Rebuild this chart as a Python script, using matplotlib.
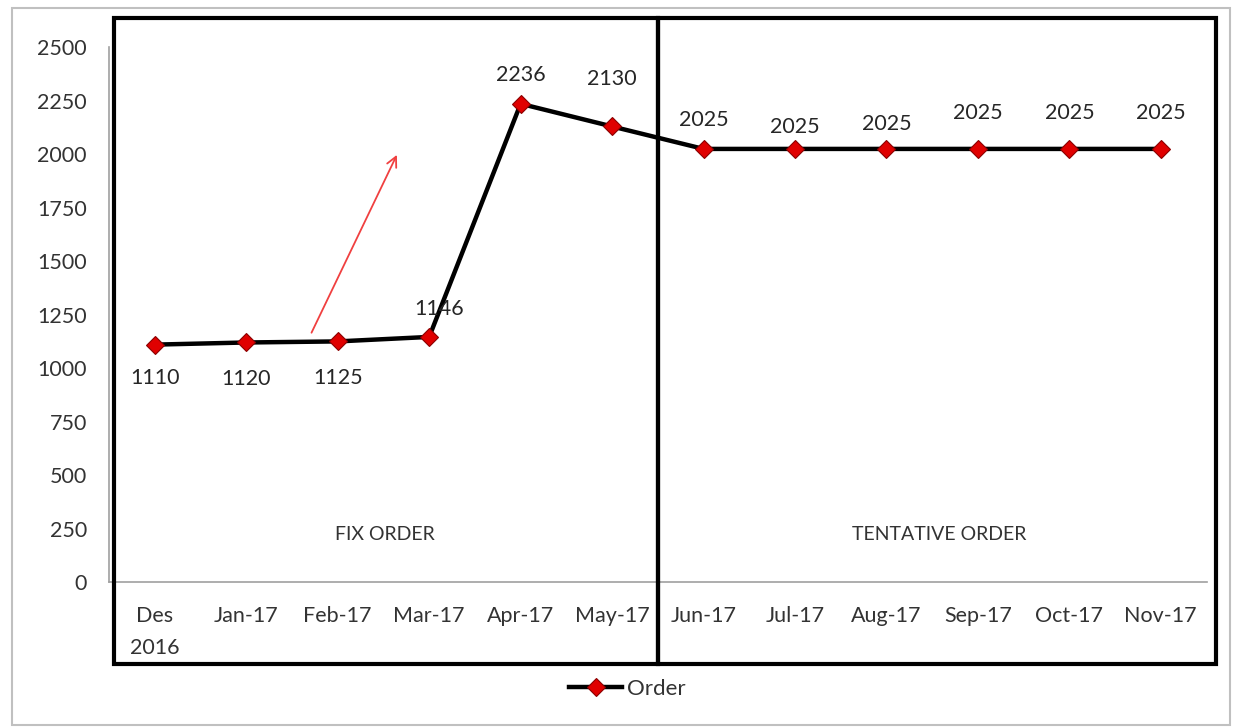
import matplotlib.pyplot as plt
from matplotlib.patches import Rectangle

# Data
months = ["Des\n2016", "Jan-17", "Feb-17", "Mar-17", "Apr-17", "May-17",
          "Jun-17", "Jul-17", "Aug-17", "Sep-17", "Oct-17", "Nov-17"]
orders = [1110, 1120, 1125, 1146, 2236, 2130, 2025, 2025, 2025, 2025, 2025, 2025]

plt.rcParams['font.family'] = ['Lato', 'DejaVu Sans']

fig = plt.figure(figsize=(12.4, 7.28), dpi=100)
ax = fig.add_axes([0.088, 0.2005, 0.885, 0.7345])

x = list(range(len(months)))
ax.plot(x, orders, color='black', linewidth=3.2, marker='D', markersize=9,
        markerfacecolor='#e00000', markeredgecolor='#8b0000', markeredgewidth=0.8,
        label='Order', zorder=4)

# data labels (some below, some above the points, as in the original)
label_offsets = [(0, -24), (0, -26), (0, -26), (7, 20), (0, 21), (0, 34),
                 (0, 21), (0, 16), (0, 18), (0, 26), (0, 26), (0, 26)]
for xi, val, (dx, dy) in zip(x, orders, label_offsets):
    ax.annotate(str(val), (xi, val), xytext=(dx, dy), textcoords='offset points',
                ha='center', va='center', fontsize=15.5, color='#262626', zorder=5)

ax.set_xlim(-0.5, len(months) - 0.5)
ax.set_ylim(0, 2500)
ax.set_yticks(range(0, 2501, 250))
ax.set_xticks(x)
ax.set_xticklabels(months)
for lbl in ax.get_xticklabels():
    lbl.set_linespacing(1.75)
ax.tick_params(axis='both', length=0, labelsize=15.5, labelcolor='#333333')
ax.tick_params(axis='x', pad=17)
ax.tick_params(axis='y', pad=16)
for side in ['top', 'right']:
    ax.spines[side].set_visible(False)
for side in ['left', 'bottom']:
    ax.spines[side].set_color('#a0a0a0')
    ax.spines[side].set_linewidth(1.2)

# red trend arrow
ax.annotate('', xy=(2.66, 2009), xytext=(1.70, 1154),
            arrowprops=dict(arrowstyle='->', color='#f04040', lw=1.3,
                            mutation_scale=18), zorder=3)

# boxes for fix / tentative orders
ax.add_patch(Rectangle((-0.45, -385), 5.95, 3020, fill=False, edgecolor='black',
                       linewidth=3, clip_on=False, zorder=6))
ax.add_patch(Rectangle((5.5, -385), 6.1, 3020, fill=False, edgecolor='black',
                       linewidth=3, clip_on=False, zorder=6))
ax.text(2.51, 220, "FIX ORDER", ha='center', va='center', fontsize=14,
        color='#333333')
ax.text(8.58, 224, "TENTATIVE ORDER", ha='center', va='center', fontsize=14,
        color='#333333')

ax.legend(loc='center', bbox_to_anchor=(0.472, -0.2), bbox_transform=ax.transAxes,
          frameon=False, fontsize=16, handlelength=2.4, handletextpad=0.2,
          labelcolor='#333333')

# outer chart frame
fig.add_artist(Rectangle((0.0097, 0.004), 0.982, 0.985, transform=fig.transFigure,
                         fill=False, edgecolor='#c0c0c0', linewidth=1.5))

fig.savefig('out.png', dpi=100)
